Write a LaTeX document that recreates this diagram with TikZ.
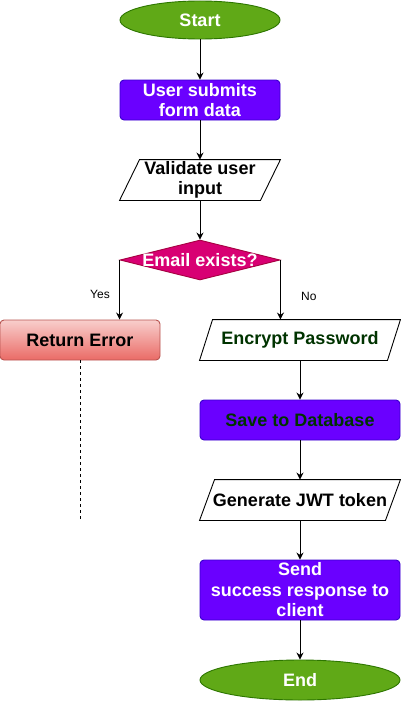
\documentclass[tikz,border=0pt]{standalone}
\usepackage{fontspec}
\setmainfont{Liberation Sans}
\usetikzlibrary{arrows.meta,shapes.geometric}

\definecolor{termfill}{HTML}{60A917}
\definecolor{termline}{HTML}{2D7600}
\definecolor{procfill}{HTML}{6A00FF}
\definecolor{procline}{HTML}{3700CC}
\definecolor{decfill}{HTML}{D80073}
\definecolor{decline}{HTML}{A50040}
\definecolor{errtop}{HTML}{F8CECC}
\definecolor{errbot}{HTML}{EA6B66}
\definecolor{errline}{HTML}{B85450}
\definecolor{enctext}{HTML}{003300}

\begin{document}
\begin{tikzpicture}[x=1pt,y=-1pt,>={Stealth[length=7pt,width=7pt]},line width=0.9pt,
  txt/.style={font=\fontsize{18}{20.5}\selectfont\bfseries,align=center},
  small/.style={font=\fontsize{12}{14}\selectfont},
  term/.style={ellipse,draw=termline,fill=termfill,text=white,inner sep=0pt,txt},
  proc/.style={rectangle,rounded corners=4pt,draw=procline,fill=procfill,text=white,inner sep=0pt,txt},
  io/.style={rectangle,inner sep=0pt,minimum height=40,txt},
  decision/.style={diamond,draw=decline,fill=decfill,inner sep=0pt,minimum width=160,minimum height=40},
  errbox/.style={rectangle,rounded corners=4pt,draw=errline,top color=errtop,bottom color=errbot,inner sep=0pt,txt}]
\useasboundingbox (0,0) rectangle (401,701);
% main column
\node[term,minimum width=160,minimum height=38] (start) at (200,20) {Start};
\node[proc,minimum width=160,minimum height=40] (submit) at (200,100) {User submits\\form data};
\node[io,minimum width=160] (valid) at (200,180) {Validate user\\input};
\node[decision,label={[txt,text=white]center:Email exists?}] (email) at (200,260) {};
% yes / no
\node[errbox,minimum width=160,minimum height=40] (err) at (80,340) {Return Error};
\node[io,minimum width=200,text=enctext] (enc) at (300,340) {Encrypt Password};
\node[proc,minimum width=200,minimum height=40,text=enctext] (save) at (300,420) {Save to Database};
\node[io,minimum width=200] (jwt) at (300,500) {Generate JWT token};
\node[proc,minimum width=200,minimum height=60] (send) at (300,590) {Send\\success response to\\client};
\node[term,minimum width=200,minimum height=40] (end) at (300,680) {End};
\coordinate (errtail) at (80,520);

% parallelogram outlines
\draw (valid.south west) -- ([xshift=20pt]valid.north west) -- (valid.north east) -- ([xshift=-20pt]valid.south east) -- cycle;
\draw (enc.south west) -- ([xshift=13pt]enc.north west) -- (enc.north east) -- ([xshift=-13pt]enc.south east) -- cycle;
\draw (jwt.south west) -- ([xshift=15pt]jwt.north west) -- (jwt.north east) -- ([xshift=-15pt]jwt.south east) -- cycle;

\draw[->] (start) -- (submit);
\draw[->] (submit) -- (valid);
\draw[->] (valid) -- (email);
\draw[->] (email.west) -- (email.west |- err.north) node[pos=0.58,left=6pt,small]{Yes};
\draw[->] (email.east) -- (email.east |- enc.north) node[pos=0.62,right=17pt,small]{No};
\draw[dashed] (err) -- (errtail);
\draw[->] (enc) -- (save);
\draw[->] (save) -- (jwt);
\draw[->] (jwt) -- (send);
\draw[->] (send) -- (end);
\end{tikzpicture}
\end{document}
